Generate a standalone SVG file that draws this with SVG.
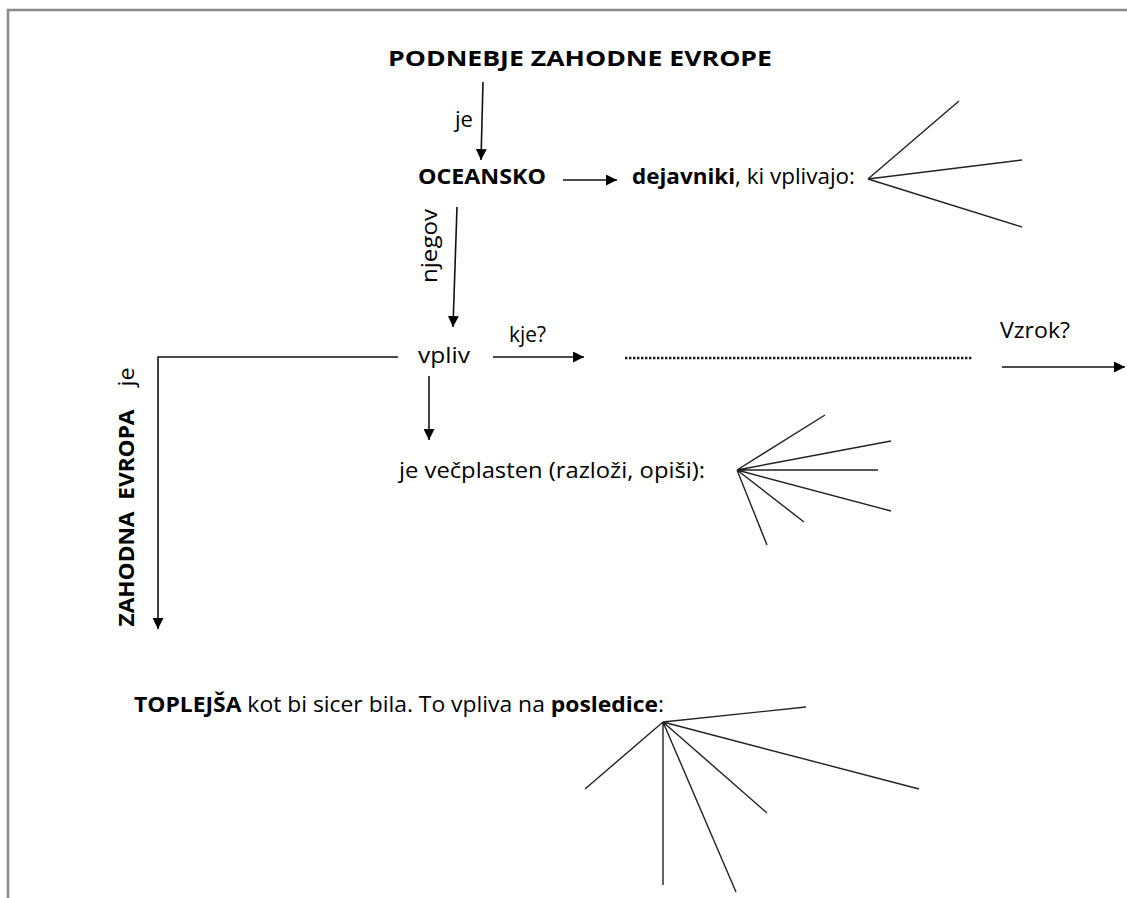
<svg xmlns="http://www.w3.org/2000/svg" width="1127" height="898" viewBox="0 0 1127 898">
<style>
text{font-family:"Open Sans","Liberation Sans",sans-serif;fill:#000;font-size:21px}
.b{font-weight:bold}
.ln{stroke:#111;stroke-width:1.6;fill:none}
.fan{stroke:#222;stroke-width:1.4;fill:none}
</style>
<defs>
<marker id="ah" viewBox="0 0 10 10" refX="10" refY="5" markerWidth="11" markerHeight="11" markerUnits="userSpaceOnUse" orient="auto">
<path d="M0,0 L10,5 L0,10 z" fill="#000"/>
</marker>
</defs>
<rect width="1127" height="898" fill="#fff"/>
<path d="M8,898 V10 H1127" stroke="#8a8a8a" stroke-width="2.5" fill="none"/>

<g id="connectors">
<line class="ln" x1="483" y1="82" x2="481" y2="160" marker-end="url(#ah)"/>
<line class="ln" x1="563" y1="180" x2="617" y2="180" marker-end="url(#ah)"/>
<line class="ln" x1="457" y1="207" x2="453" y2="327" marker-end="url(#ah)"/>
<polyline class="ln" points="398,357 158,357 158,629" marker-end="url(#ah)"/>
<line class="ln" x1="493" y1="357" x2="584" y2="357" marker-end="url(#ah)"/>
<line x1="625" y1="358" x2="972" y2="358" stroke="#1a1a2a" stroke-width="2.4" stroke-dasharray="2.4 1.6"/>
<line class="ln" x1="1002" y1="367" x2="1125" y2="367" marker-end="url(#ah)"/>
<line class="ln" x1="429" y1="376" x2="429" y2="440" marker-end="url(#ah)"/>
</g>

<g id="title"><text class="b" x="388" y="66" font-size="28" textLength="384" lengthAdjust="spacingAndGlyphs">PODNEBJE ZAHODNE EVROPE</text></g>
<g id="label-je1"><text x="455" y="127" textLength="18" lengthAdjust="spacingAndGlyphs">je</text></g>
<g id="oceansko"><text class="b" x="418" y="184" font-size="22" textLength="128" lengthAdjust="spacingAndGlyphs">OCEANSKO</text></g>
<g id="dejavniki">
<text x="632" y="184" textLength="223" lengthAdjust="spacingAndGlyphs"><tspan class="b">dejavniki</tspan>, ki vplivajo:</text>
<path class="fan" d="M868,179 L959,101 M868,179 L1022,160 M868,179 L1022,227"/>
</g>
<g id="label-njegov"><text transform="translate(437,246) rotate(-90)" text-anchor="middle" textLength="74" lengthAdjust="spacingAndGlyphs">njegov</text></g>
<g id="vpliv"><text x="418" y="363" textLength="52" lengthAdjust="spacingAndGlyphs">vpliv</text></g>
<g id="label-kje"><text x="509" y="342" textLength="37" lengthAdjust="spacingAndGlyphs">kje?</text></g>
<g id="label-vzrok"><text x="1000" y="338" textLength="70" lengthAdjust="spacingAndGlyphs">Vzrok?</text></g>
<g id="label-je2"><text transform="translate(134,377) rotate(-90)" text-anchor="middle" textLength="19" lengthAdjust="spacingAndGlyphs">je</text></g>
<g id="zahodna-evropa"><text class="b" transform="translate(134,518) rotate(-90)" text-anchor="middle" textLength="217" lengthAdjust="spacingAndGlyphs" xml:space="preserve">ZAHODNA  EVROPA</text></g>
<g id="vecplasten">
<text x="399" y="478" textLength="306" lengthAdjust="spacingAndGlyphs">je večplasten (razloži, opiši):</text>
<path class="fan" d="M737,470 L825,415 M737,470 L891,441 M737,470 L878,470 M737,470 L891,511 M737,470 L804,522 M737,470 L767,545"/>
</g>
<g id="toplejsa">
<text x="134" y="712" textLength="530" lengthAdjust="spacingAndGlyphs"><tspan class="b">TOPLEJŠA</tspan> kot bi sicer bila. To vpliva na <tspan class="b">posledice</tspan>:</text>
<path class="fan" d="M663,722 L806,707 M663,722 L585,789 M663,722 L663,885 M663,722 L736,892 M663,722 L767,813 M663,722 L919,789"/>
</g>
</svg>
